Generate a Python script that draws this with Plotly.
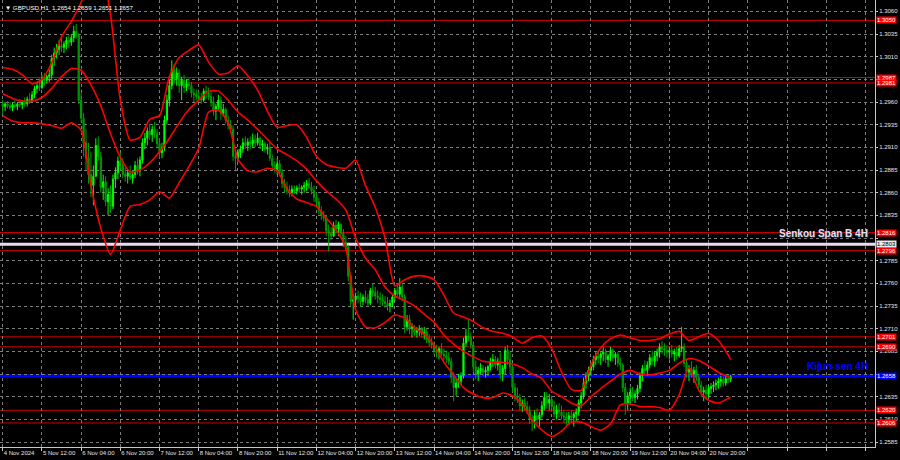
import plotly.graph_objects as go

# ---------------- data ----------------
tick_labels = ["4 Nov 2024", "5 Nov 12:00", "6 Nov 04:00", "6 Nov 20:00", "7 Nov 12:00",
               "8 Nov 04:00", "8 Nov 20:00", "11 Nov 12:00", "12 Nov 04:00", "12 Nov 20:00",
               "13 Nov 12:00", "14 Nov 04:00", "14 Nov 20:00", "15 Nov 12:00", "18 Nov 04:00",
               "18 Nov 20:00", "19 Nov 12:00", "20 Nov 04:00", "20 Nov 20:00", "", "", "", ""]

first_open = 1.2958
highs = [
 1.2962,1.2960,1.2961,1.2960,1.2959,1.2962,1.2960,1.2963,1.2962,1.2965,
 1.2966,1.2970,1.2972,1.2978,1.2982,1.2986,1.2990,1.2992,1.2990,1.2996,
 1.3012,1.3020,1.3024,1.3028,1.3030,1.3027,1.3032,1.3034,1.3035,1.3044,
 1.3046,1.3036,1.2970,1.2948,1.2930,1.2915,1.2905,1.2890,1.2920,1.2922,
 1.2905,1.2880,1.2878,1.2865,1.2868,1.2880,1.2888,1.2900,1.2905,1.2898,
 1.2888,1.2886,1.2890,1.2884,1.2895,1.2898,1.2900,1.2920,1.2926,1.2932,
 1.2936,1.2934,1.2938,1.2930,1.2920,1.2915,1.2945,1.2968,1.2985,1.3006,
 1.3002,1.2998,1.2996,1.2988,1.2990,1.2985,1.2986,1.2982,1.2975,1.2974,
 1.2972,1.2970,1.2975,1.2978,1.2976,1.2972,1.2966,1.2958,1.2968,1.2966,
 1.2958,1.2954,1.2945,1.2940,1.2934,1.2905,1.2908,1.2912,1.2920,1.2922,
 1.2920,1.2922,1.2925,1.2924,1.2926,1.2922,1.2918,1.2916,1.2914,1.2915,
 1.2902,1.2895,1.2898,1.2896,1.2886,1.2875,1.2872,1.2868,1.2868,1.2868,
 1.2868,1.2870,1.2868,1.2872,1.2874,1.2876,1.2872,1.2868,1.2860,1.2854,
 1.2845,1.2840,1.2835,1.2825,1.2822,1.2828,1.2830,1.2828,1.2826,1.2820,
 1.2812,1.2802,1.2770,1.2748,1.2750,1.2752,1.2750,1.2748,1.2752,1.2748,
 1.2755,1.2760,1.2756,1.2752,1.2750,1.2748,1.2746,1.2745,1.2742,1.2748,
 1.2755,1.2760,1.2766,1.2760,1.2748,1.2725,1.2725,1.2716,1.2714,1.2712,
 1.2714,1.2712,1.2712,1.2710,1.2704,1.2700,1.2696,1.2692,1.2690,1.2694,
 1.2688,1.2686,1.2684,1.2678,1.2662,1.2655,1.2660,1.2662,1.2700,1.2710,
 1.2720,1.2706,1.2696,1.2675,1.2668,1.2672,1.2670,1.2668,1.2670,1.2678,
 1.2682,1.2680,1.2678,1.2684,1.2670,1.2690,1.2692,1.2684,1.2670,1.2650,
 1.2645,1.2638,1.2632,1.2634,1.2630,1.2625,1.2615,1.2620,1.2622,1.2618,
 1.2630,1.2640,1.2640,1.2638,1.2636,1.2630,1.2626,1.2628,1.2625,1.2620,
 1.2618,1.2618,1.2620,1.2618,1.2622,1.2632,1.2640,1.2656,1.2662,1.2668,
 1.2672,1.2680,1.2684,1.2686,1.2684,1.2690,1.2688,1.2682,1.2690,1.2688,
 1.2684,1.2684,1.2678,1.2672,1.2650,1.2640,1.2645,1.2646,1.2642,1.2648,
 1.2662,1.2670,1.2675,1.2674,1.2682,1.2686,1.2684,1.2688,1.2694,1.2696,
 1.2694,1.2692,1.2690,1.2692,1.2688,1.2690,1.2692,1.2712,1.2694,1.2676,
 1.2670,1.2674,1.2668,1.2670,1.2660,1.2652,1.2646,1.2648,1.2648,1.2650,
 1.2652,1.2654,1.2656,1.2658,1.2657,1.2658,1.2660,1.2659]
lows = [
 1.2946,1.2950,1.2953,1.2951,1.2950,1.2953,1.2951,1.2954,1.2952,1.2955,
 1.2955,1.2958,1.2960,1.2964,1.2970,1.2972,1.2974,1.2978,1.2980,1.2982,
 1.2984,1.3000,1.3008,1.3012,1.3015,1.3014,1.3018,1.3020,1.3022,1.3026,
 1.3030,1.2958,1.2938,1.2900,1.2885,1.2870,1.2855,1.2846,1.2890,1.2895,
 1.2860,1.2852,1.2845,1.2835,1.2838,1.2842,1.2865,1.2875,1.2885,1.2876,
 1.2872,1.2870,1.2874,1.2870,1.2876,1.2880,1.2878,1.2892,1.2908,1.2912,
 1.2918,1.2916,1.2920,1.2910,1.2898,1.2898,1.2906,1.2935,1.2955,1.2974,
 1.2980,1.2978,1.2970,1.2962,1.2970,1.2972,1.2974,1.2965,1.2960,1.2962,
 1.2960,1.2958,1.2960,1.2964,1.2962,1.2955,1.2945,1.2940,1.2950,1.2940,
 1.2944,1.2936,1.2930,1.2926,1.2895,1.2885,1.2894,1.2898,1.2904,1.2908,
 1.2906,1.2908,1.2910,1.2910,1.2912,1.2908,1.2906,1.2904,1.2902,1.2895,
 1.2885,1.2882,1.2880,1.2878,1.2865,1.2860,1.2858,1.2855,1.2856,1.2858,
 1.2858,1.2860,1.2858,1.2860,1.2862,1.2864,1.2858,1.2850,1.2846,1.2836,
 1.2830,1.2828,1.2812,1.2795,1.2808,1.2812,1.2815,1.2812,1.2810,1.2800,
 1.2796,1.2762,1.2735,1.2720,1.2735,1.2738,1.2734,1.2736,1.2738,1.2734,
 1.2736,1.2745,1.2742,1.2738,1.2736,1.2735,1.2733,1.2730,1.2728,1.2734,
 1.2740,1.2745,1.2744,1.2740,1.2705,1.2708,1.2704,1.2700,1.2702,1.2700,
 1.2702,1.2700,1.2698,1.2694,1.2690,1.2688,1.2682,1.2678,1.2676,1.2680,
 1.2675,1.2672,1.2670,1.2650,1.2630,1.2636,1.2645,1.2648,1.2655,1.2690,
 1.2696,1.2688,1.2662,1.2654,1.2652,1.2660,1.2658,1.2656,1.2658,1.2664,
 1.2668,1.2666,1.2664,1.2654,1.2652,1.2660,1.2670,1.2660,1.2640,1.2630,
 1.2628,1.2620,1.2618,1.2620,1.2616,1.2605,1.2597,1.2600,1.2604,1.2602,
 1.2612,1.2620,1.2622,1.2620,1.2618,1.2612,1.2610,1.2612,1.2610,1.2606,
 1.2604,1.2604,1.2606,1.2602,1.2608,1.2614,1.2622,1.2632,1.2644,1.2652,
 1.2658,1.2664,1.2670,1.2672,1.2670,1.2674,1.2672,1.2668,1.2674,1.2674,
 1.2670,1.2668,1.2664,1.2640,1.2615,1.2620,1.2628,1.2630,1.2628,1.2632,
 1.2640,1.2652,1.2660,1.2658,1.2666,1.2670,1.2668,1.2674,1.2678,1.2682,
 1.2680,1.2678,1.2676,1.2678,1.2674,1.2676,1.2678,1.2684,1.2668,1.2656,
 1.2652,1.2656,1.2650,1.2652,1.2644,1.2634,1.2630,1.2632,1.2634,1.2638,
 1.2640,1.2642,1.2644,1.2646,1.2646,1.2647,1.2650,1.2651]
closes = [
 1.2955,1.2958,1.2956,1.2954,1.2957,1.2955,1.2958,1.2957,1.2960,1.2958,
 1.2963,1.2961,1.2968,1.2975,1.2978,1.2976,1.2986,1.2984,1.2988,1.2990,
 1.3008,1.3014,1.3018,1.3022,1.3020,1.3024,1.3028,1.3026,1.3031,1.3038,
 1.3034,1.2962,1.2942,1.2915,1.2898,1.2880,1.2868,1.2878,1.2912,1.2900,
 1.2866,1.2872,1.2850,1.2858,1.2845,1.2875,1.2882,1.2895,1.2890,1.2880,
 1.2878,1.2882,1.2876,1.2880,1.2890,1.2884,1.2896,1.2915,1.2920,1.2928,
 1.2924,1.2930,1.2926,1.2914,1.2904,1.2910,1.2940,1.2962,1.2978,1.2996,
 1.2986,1.2992,1.2978,1.2984,1.2976,1.2980,1.2978,1.2970,1.2968,1.2966,
 1.2964,1.2962,1.2972,1.2970,1.2966,1.2960,1.2950,1.2955,1.2962,1.2948,
 1.2952,1.2940,1.2934,1.2930,1.2900,1.2898,1.2904,1.2908,1.2915,1.2912,
 1.2916,1.2914,1.2918,1.2915,1.2920,1.2912,1.2914,1.2908,1.2910,1.2898,
 1.2890,1.2886,1.2892,1.2882,1.2870,1.2866,1.2862,1.2860,1.2864,1.2862,
 1.2865,1.2864,1.2866,1.2868,1.2870,1.2866,1.2862,1.2855,1.2850,1.2840,
 1.2835,1.2832,1.2818,1.2815,1.2812,1.2824,1.2820,1.2825,1.2815,1.2805,
 1.2800,1.2768,1.2740,1.2742,1.2746,1.2744,1.2740,1.2745,1.2742,1.2738,
 1.2752,1.2750,1.2746,1.2744,1.2742,1.2740,1.2738,1.2735,1.2738,1.2745,
 1.2752,1.2748,1.2756,1.2745,1.2712,1.2720,1.2710,1.2712,1.2706,1.2708,
 1.2710,1.2704,1.2706,1.2698,1.2695,1.2692,1.2686,1.2684,1.2688,1.2682,
 1.2680,1.2678,1.2674,1.2656,1.2645,1.2650,1.2652,1.2658,1.2694,1.2702,
 1.2700,1.2692,1.2668,1.2660,1.2664,1.2666,1.2662,1.2664,1.2668,1.2674,
 1.2676,1.2670,1.2674,1.2660,1.2666,1.2686,1.2676,1.2668,1.2645,1.2636,
 1.2634,1.2625,1.2628,1.2624,1.2620,1.2610,1.2608,1.2614,1.2610,1.2615,
 1.2625,1.2634,1.2628,1.2632,1.2624,1.2616,1.2620,1.2618,1.2614,1.2612,
 1.2610,1.2614,1.2612,1.2616,1.2618,1.2628,1.2636,1.2650,1.2658,1.2664,
 1.2668,1.2676,1.2680,1.2678,1.2682,1.2684,1.2676,1.2680,1.2686,1.2678,
 1.2682,1.2672,1.2670,1.2645,1.2628,1.2636,1.2640,1.2634,1.2638,1.2644,
 1.2658,1.2666,1.2664,1.2670,1.2678,1.2674,1.2680,1.2684,1.2690,1.2688,
 1.2686,1.2684,1.2686,1.2682,1.2684,1.2680,1.2688,1.2690,1.2672,1.2662,
 1.2666,1.2660,1.2664,1.2656,1.2648,1.2640,1.2642,1.2638,1.2644,1.2646,
 1.2648,1.2650,1.2652,1.2654,1.2650,1.2655,1.2654,1.2657]

# Bollinger band readings, one every 4 bars (bars 0,4,...,296) plus the last bar
bb_upper = [1.2998,1.2996,1.2990,1.2980,1.2985,1.3003,1.3032,1.3049,1.3070,1.3100,
            1.3106,1.3056,1.2962,1.2918,1.2921,1.2941,1.2945,1.2988,1.3009,1.3017,
            1.3023,1.3004,1.2991,1.2992,1.3000,1.2989,1.2973,1.2950,1.2932,1.2934,
            1.2935,1.2921,1.2900,1.2891,1.2888,1.2887,1.2896,1.2868,1.2844,1.2810,
            1.2757,1.2764,1.2768,1.2768,1.2764,1.2747,1.2727,1.2723,1.2718,1.2711,
            1.2707,1.2705,1.2701,1.2694,1.2700,1.2702,1.2688,1.2662,1.2643,1.2642,
            1.2670,1.2689,1.2699,1.2703,1.2700,1.2697,1.2697,1.2699,1.2704,1.2707,
            1.2697,1.2701,1.2705,1.2697,1.2681,1.2676]
bb_middle = [1.2969,1.2964,1.2961,1.2961,1.2965,1.2975,1.2988,1.2997,1.2995,1.2979,
             1.2956,1.2925,1.2899,1.2883,1.2885,1.2893,1.2905,1.2920,1.2937,1.2952,
             1.2962,1.2972,1.2972,1.2962,1.2949,1.2940,1.2930,1.2919,1.2908,1.2902,
             1.2895,1.2886,1.2873,1.2862,1.2853,1.2841,1.2810,1.2788,1.2775,1.2756,
             1.2746,1.2741,1.2735,1.2726,1.2717,1.2703,1.2693,1.2685,1.2679,1.2674,
             1.2673,1.2673,1.2671,1.2667,1.2660,1.2655,1.2641,1.2635,1.2628,1.2625,
             1.2635,1.2644,1.2652,1.2660,1.2664,1.2660,1.2659,1.2661,1.2664,1.2672,
             1.2677,1.2675,1.2669,1.2662,1.2657,1.2656]
bb_lower = [1.2945,1.2939,1.2937,1.2937,1.2936,1.2934,1.2931,1.2937,1.2929,1.2868,
            1.2821,1.2792,1.2819,1.2845,1.2847,1.2852,1.2861,1.2854,1.2871,1.2889,
            1.2909,1.2949,1.2951,1.2937,1.2897,1.2884,1.2883,1.2887,1.2884,1.2864,
            1.2853,1.2849,1.2845,1.2832,1.2819,1.2799,1.2731,1.2712,1.2711,1.2717,
            1.2725,1.2722,1.2711,1.2704,1.2692,1.2673,1.2659,1.2645,1.2638,1.2634,
            1.2634,1.2639,1.2636,1.2626,1.2609,1.2598,1.2591,1.2597,1.2607,1.2607,
            1.2602,1.2598,1.2605,1.2626,1.2627,1.2624,1.2624,1.2623,1.2620,1.2637,
            1.2667,1.2642,1.2631,1.2628,1.2633,1.2634]

red_levels = [1.3050, 1.2987, 1.2981, 1.2816, 1.2796, 1.2701, 1.2690, 1.2620, 1.2606]
senkou_level = 1.2803
kijun_level = 1.2658
price_ticks = [1.2585 + 0.0025 * i for i in range(20)]
hidden_tick_labels = ["1.2985", "1.2810", "1.2660"]   # covered by level boxes in the original

# ---------------- figure ----------------
n = len(closes)
bars = list(range(n))
opens = [first_open] + closes[:-1]
band_x = list(range(0, n - 1, 4)) + [n - 1]

fig = go.Figure()

for lv in red_levels:
    fig.add_shape(type="line", xref="paper", x0=0, x1=1, yref="y", y0=lv, y1=lv,
                  line=dict(color="#d40000", width=1), layer="below")
fig.add_shape(type="line", xref="paper", x0=0, x1=1, yref="y", y0=senkou_level, y1=senkou_level,
              line=dict(color="#eadcf0", width=3), layer="below")
fig.add_shape(type="line", xref="paper", x0=0, x1=1, yref="y", y0=kijun_level, y1=kijun_level,
              line=dict(color="#0000ff", width=3), layer="below")

for band in (bb_upper, bb_middle, bb_lower):
    fig.add_trace(go.Scatter(x=band_x, y=band, mode="lines",
                             line=dict(color="#ff0000", width=1.6, shape="spline", smoothing=0.6),
                             hoverinfo="skip", showlegend=False))

fig.add_trace(go.Candlestick(
    x=bars, open=opens, high=highs, low=lows, close=closes,
    increasing=dict(line=dict(color="#00ff00", width=1), fillcolor="#00ff00"),
    decreasing=dict(line=dict(color="#00a000", width=1), fillcolor="#008000"),
    whiskerwidth=0, showlegend=False))

tick_bars = [16 * i for i in range(len(tick_labels))]
ytext = [("" if f"{v:.4f}" in hidden_tick_labels else f"{v:.4f}") for v in price_ticks]
grid_col = "#7d7d7d"
fig.update_layout(
    width=900, height=460,
    margin=dict(l=0, r=25, t=0, b=13),
    paper_bgcolor="#000000", plot_bgcolor="#000000",
    showlegend=False,
    font=dict(family="Liberation Sans, DejaVu Sans, sans-serif", size=6, color="#e6e6e6"),
    xaxis=dict(range=[-1.1, 355.9], tickmode="array", tickvals=tick_bars, ticktext=tick_labels,
               tickangle=0,
               showgrid=True, gridcolor=grid_col, griddash="3px,3px", gridwidth=1,
               showline=True, linecolor="#c8c8c8", linewidth=1,
               ticks="outside", ticklen=3, tickcolor="#c8c8c8",
               ticklabelposition="outside right", zeroline=False,
               rangeslider=dict(visible=False), fixedrange=True),
    yaxis=dict(range=[1.25795, 1.30725], side="right", tickmode="array", tickvals=price_ticks,
               ticktext=ytext,
               showgrid=True, gridcolor=grid_col, griddash="3px,3px", gridwidth=1,
               showline=True, linecolor="#c8c8c8", linewidth=1,
               ticks="outside", ticklen=2, tickcolor="#c8c8c8", zeroline=False, fixedrange=True),
)

# header text
hdr = f"\u25BC GBPUSD,H1  {opens[-1]:.4f} {highs[-1]:.4f} {lows[-1]:.4f} {closes[-1]:.4f}"
fig.add_annotation(text=hdr, xref="paper", yref="paper", x=0, y=1, xanchor="left", yanchor="top",
                   xshift=3, yshift=-2, showarrow=False,
                   font=dict(size=6.2, color="#ffffff", family="Liberation Sans, DejaVu Sans"))

# price labels on the right
def side_label(price, bg, fg):
    fig.add_annotation(text=f"{price:.4f}", xref="paper", yref="y", x=1, y=price,
                       xanchor="left", yanchor="middle", xshift=1, showarrow=False,
                       bgcolor=bg, borderpad=0,
                       font=dict(size=6, color=fg, family="Liberation Sans, DejaVu Sans"))

for lv in red_levels:
    side_label(lv, "#ff0000", "#ffffff")
side_label(senkou_level, "#e8e8f0", "#000000")
side_label(kijun_level, "#0000ff", "#ffffff")

narrow = "Liberation Sans Narrow, Liberation Sans"
fig.add_annotation(text="Senkou Span B 4H", xref="paper", yref="y", x=870 / 875, y=senkou_level,
                   xanchor="right", yanchor="middle", yshift=11, showarrow=False,
                   font=dict(size=10, color="#e4e0f4", family=narrow,
                             weight="bold", shadow="1px 1px 1px #303040"))
fig.add_annotation(text="Kijun-sen 4H", xref="paper", yref="y", x=870 / 875, y=kijun_level,
                   xanchor="right", yanchor="middle", yshift=9, showarrow=False,
                   font=dict(size=10, color="#0000ff", family=narrow, weight="bold"))

fig.write_html("out.html", config={"displayModeBar": False},
               post_script="document.body.style.margin='0';document.body.style.overflow='hidden';")
